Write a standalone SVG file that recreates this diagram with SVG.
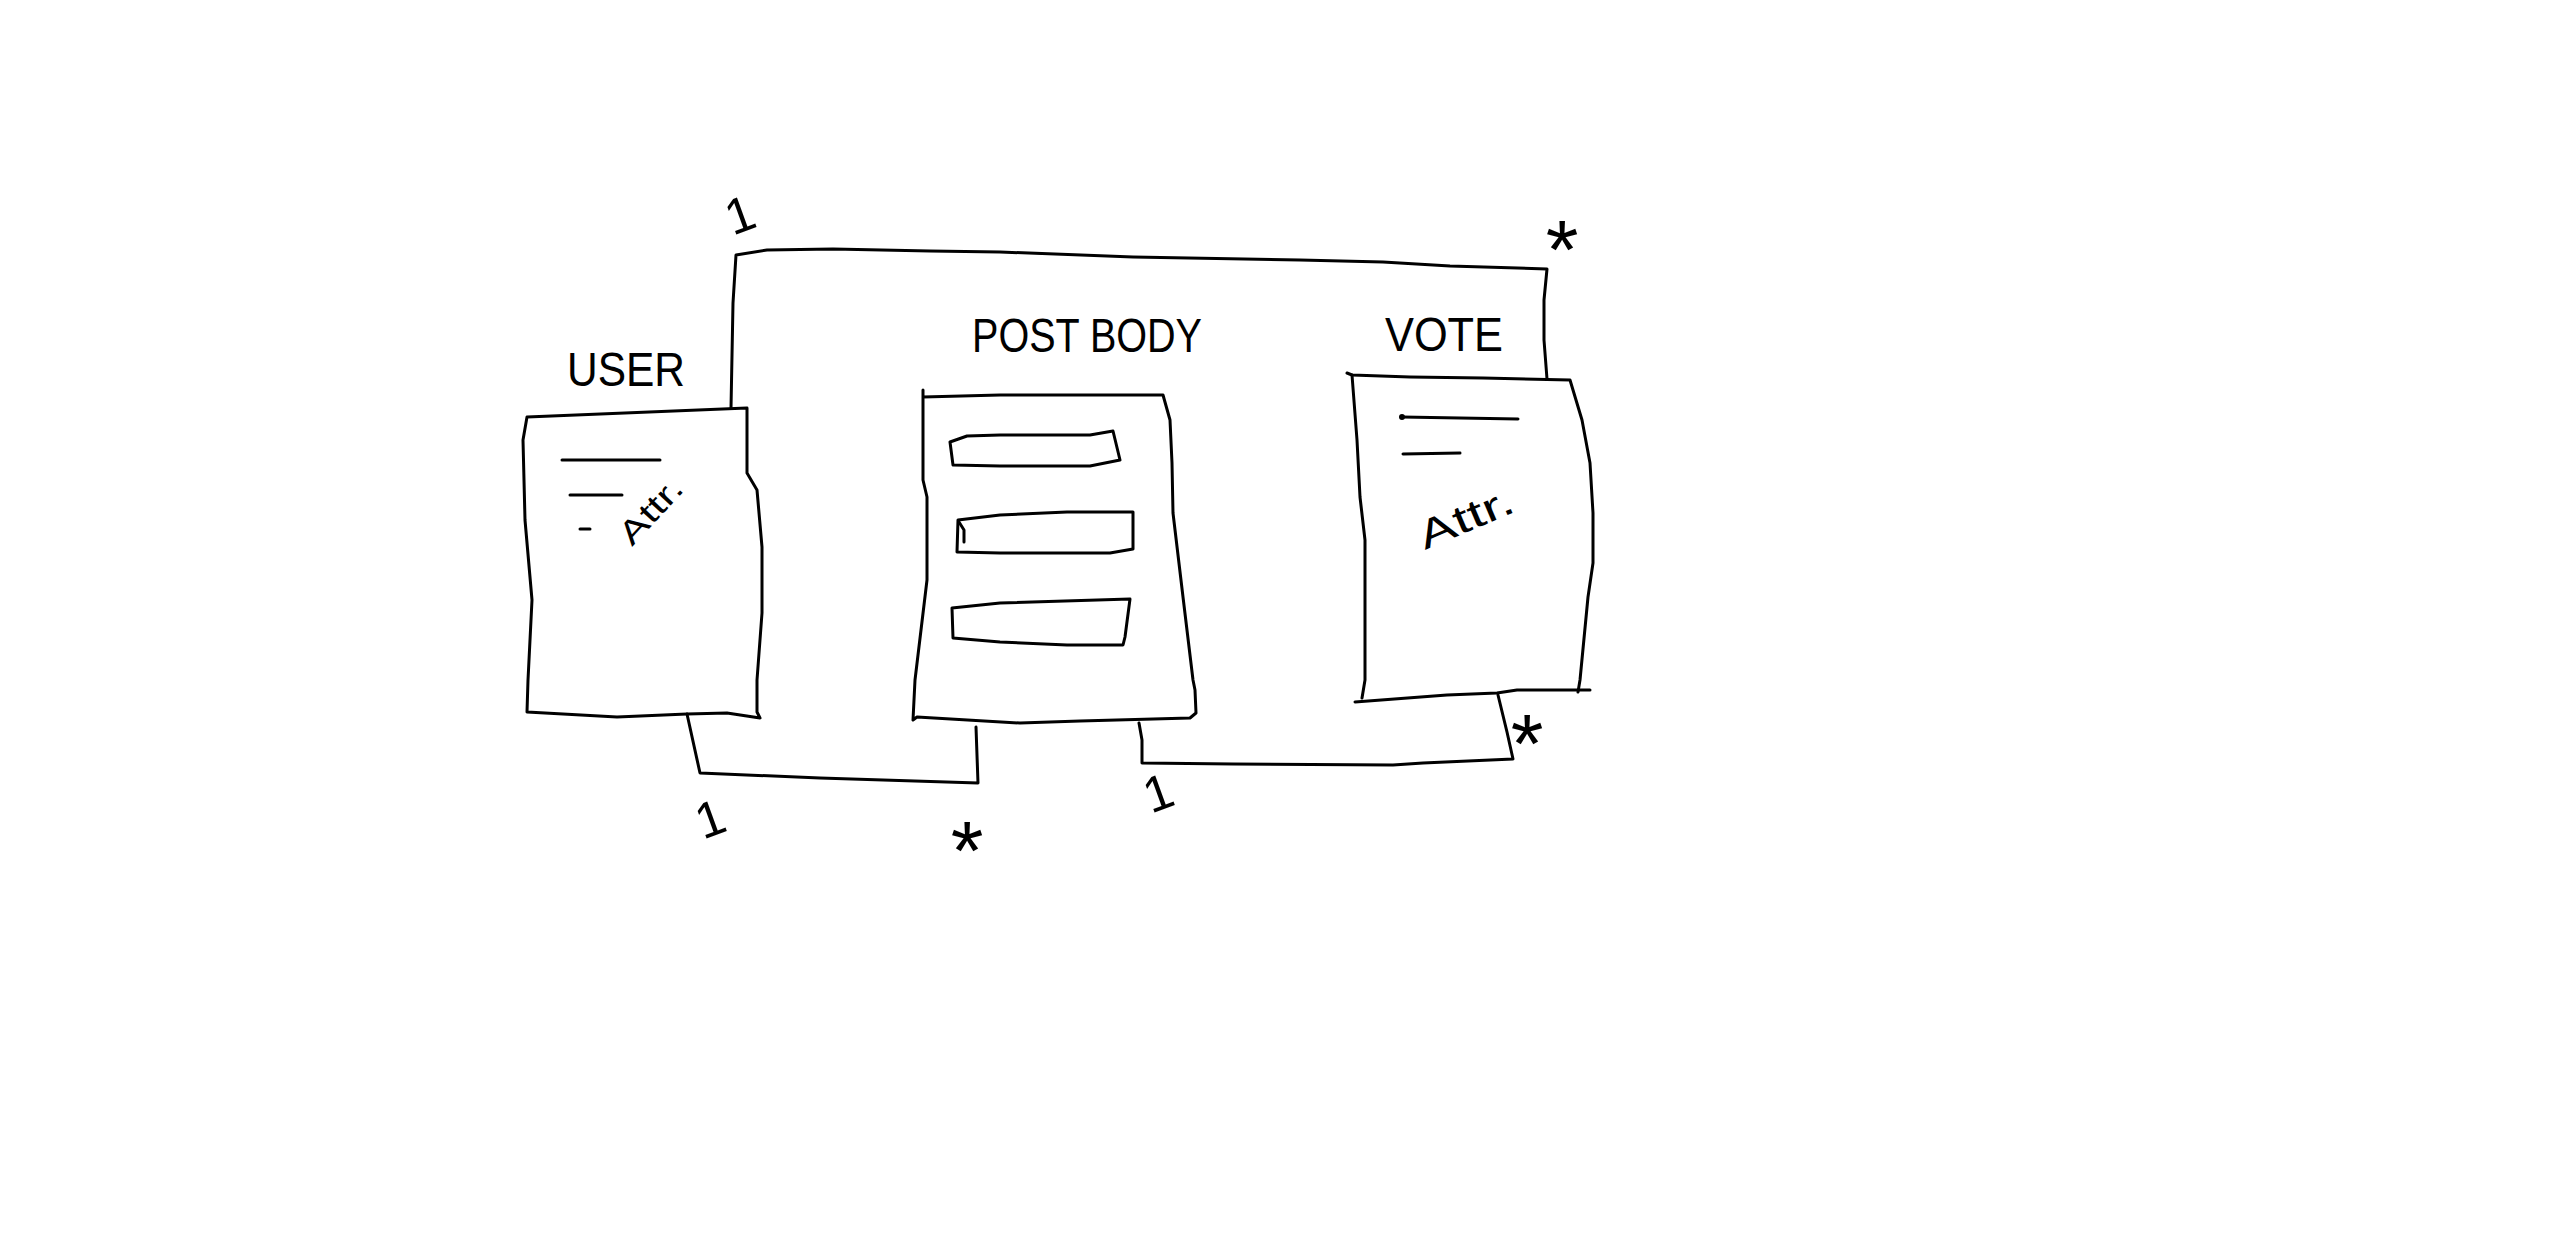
<svg xmlns="http://www.w3.org/2000/svg" width="2554" height="1234" viewBox="0 0 2554 1234">
<style>
.s{fill:none;stroke:#000;stroke-width:3;stroke-linejoin:round;stroke-linecap:round}
.lbl{font-family:"Liberation Sans",Arial,sans-serif;font-size:48px;fill:#000}
.attr{font-family:"Liberation Sans",Arial,sans-serif;fill:#000}
.mult{font-family:"Liberation Sans",Arial,sans-serif;fill:#000;text-anchor:middle}
</style>
<rect width="2554" height="1234" fill="#fff"/>
<g id="connectors">
  <polyline class="s" points="731,408 733,303 736,255 767,250 833,249 930,251 1000,252 1133,257 1300,260 1383,262 1450,266 1547,269 1544,300 1544,340 1547,379"/>
  <polyline class="s" points="687,714 700,773 820,778 978,783 976,727"/>
  <polyline class="s" points="1139,723 1142,740 1142,763 1233,764 1393,765 1423,763 1513,759 1507,732 1498,695"/>
  <text class="mult" font-size="50" x="740" y="232" transform="rotate(-20 740 215)">1</text>
  <text class="mult" font-size="84" x="1562" y="279">*</text>
  <text class="mult" font-size="50" x="710" y="836" transform="rotate(-20 710 818)">1</text>
  <text class="mult" font-size="84" x="967" y="880">*</text>
  <text class="mult" font-size="50" x="1158" y="810" transform="rotate(-20 1158 792)">1</text>
  <text class="mult" font-size="84" x="1527" y="773">*</text>
</g>
<g id="user">
  <text class="lbl" x="567" y="386" font-size="52" textLength="118" lengthAdjust="spacingAndGlyphs">USER</text>
  <path class="s" d="M527,417 L747,408 L747,473 L757,490 L762,547 L762,613 L757,680 L757,712 L760,718 L727,713 L687,714 L617,717 L527,712 L528,680 L532,600 L525,520 L523,440 Z"/>
  <line class="s" x1="562" y1="460" x2="660" y2="460"/>
  <line class="s" x1="570" y1="495" x2="622" y2="495"/>
  <line class="s" x1="580" y1="529" x2="590" y2="529"/>
  <text class="attr" font-size="32" x="632" y="547" transform="rotate(-47 632 547)" textLength="78" lengthAdjust="spacingAndGlyphs">Attr.</text>
</g>
<g id="postbody">
  <text class="lbl" x="972" y="352" textLength="230" lengthAdjust="spacingAndGlyphs">POST BODY</text>
  <path class="s" d="M923,390 L923,397 L1000,395 L1163,395 L1170,420 L1172,463 L1173,513 L1183,597 L1193,680 L1195,690 L1196,713 L1190,718 L1080,721 L1020,723 L917,717 L913,720 L915,680 L927,580 L927,497 L923,480 Z"/>
  <polygon class="s" points="950,442 967,436 1000,435 1090,435 1113,431 1120,460 1090,466 1000,466 953,465"/>
  <polygon class="s" points="958,520 1000,515 1067,512 1133,512 1133,549 1110,553 1000,553 957,552"/>
  <polyline class="s" points="959,522 964,530 964,542"/>
  <polygon class="s" points="952,608 1000,603 1130,599 1125,637 1123,645 1067,645 1000,642 953,638"/>
</g>
<g id="vote">
  <text class="lbl" x="1385" y="351" textLength="118" lengthAdjust="spacingAndGlyphs">VOTE</text>
  <path class="s" d="M1347,373 L1352,375 L1410,377 L1483,378 L1570,380 L1582,420 L1590,463 L1593,513 L1593,563 L1588,597 L1580,680 L1578,692"/>
  <path class="s" d="M1590,690 L1517,690 L1497,693 L1447,695 L1355,702"/>
  <path class="s" d="M1352,375 L1357,440 L1360,497 L1365,540 L1365,680 L1362,698"/>
  <line class="s" x1="1402" y1="417" x2="1518" y2="419"/>
  <circle cx="1402" cy="417" r="3"/>
  <line class="s" x1="1403" y1="454" x2="1460" y2="453"/>
  <text class="attr" font-size="40" x="1425" y="550" transform="rotate(-23 1425 550)" textLength="100" lengthAdjust="spacingAndGlyphs">Attr.</text>
</g>
</svg>
